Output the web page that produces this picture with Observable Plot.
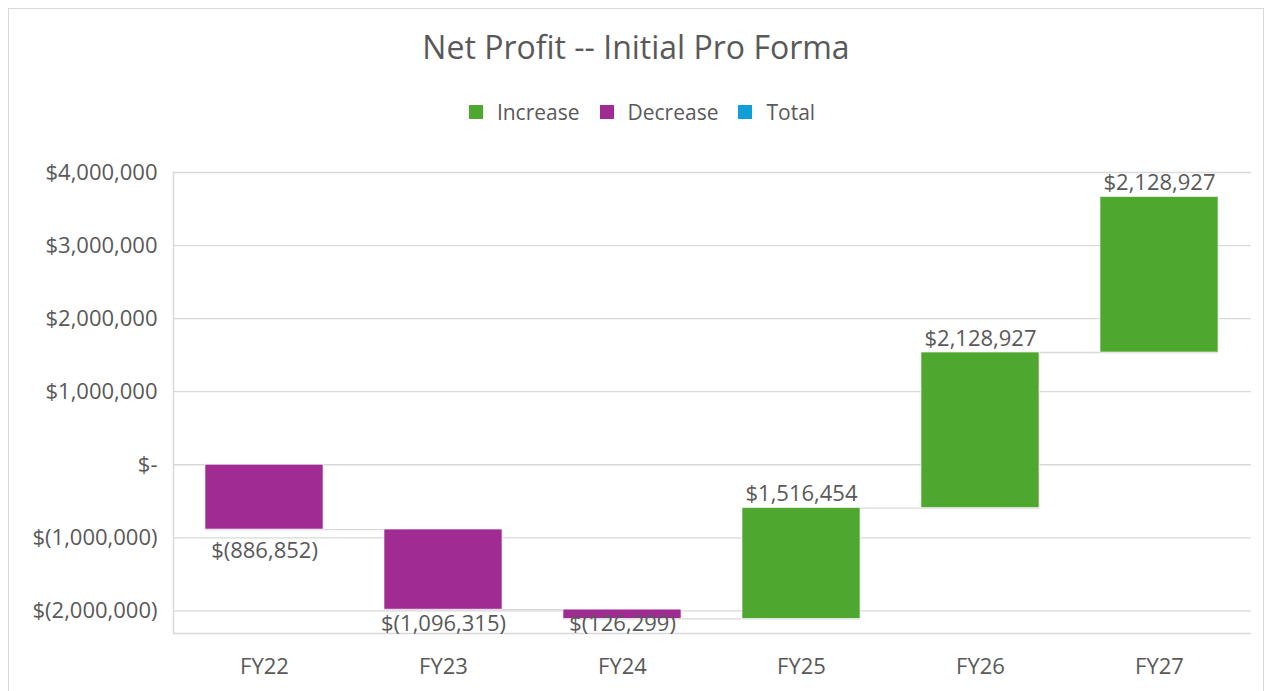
<!DOCTYPE html>
<html>
<head>
<meta charset="utf-8">
<script src="https://cdn.jsdelivr.net/npm/d3@7"></script>
<script src="https://cdn.jsdelivr.net/npm/@observablehq/plot@0.6"></script>
<style>
  html, body { margin: 0; padding: 0; background: #ffffff; }
  body { width: 1268px; height: 691px; position: relative; overflow: hidden; font-family: "Open Sans", "Noto Sans", sans-serif; }
  #frame { position: absolute; left: 8px; top: 8px; width: 1256px; height: 700px; border: 1px solid #d9d9d9; box-sizing: border-box; }
  #title { position: absolute; left: 8px; width: 1256px; top: 27px; text-align: center; font-size: 32px; line-height: 40px; color: #595959; }
  #legend { position: absolute; left: 14px; width: 1256px; top: 99px; display: flex; justify-content: center; align-items: center; font-size: 21px; line-height: 26px; color: #595959; }
  .item { display: flex; align-items: center; margin: 0 10px; }
  .sw { width: 14px; height: 14px; margin-right: 14px; }
  #chart { position: absolute; left: 0; top: 150px; }
</style>
</head>
<body>
<div id="frame"></div>
<div id="title">Net Profit -- Initial Pro Forma</div>
<div id="legend"></div>
<div id="chart"></div>
<script>
// ---- data ----
const categories = ["FY22", "FY23", "FY24", "FY25", "FY26", "FY27"];
const changes = [-886852, -1096315, -126299, 1516454, 2128927, 2128927];
const legendNames = ["Increase", "Decrease", "Total"];
const legendColors = ["#4ea72e", "#a02b93", "#0f9ed5"];
const yTicks = [-2000000, -1000000, 0, 1000000, 2000000, 3000000, 4000000];
const yDomain = [-2310000, 4000000];

// ---- derived rows ----
const fmtNum = d3.format(",");
const acct = v => v === 0 ? "$-" : v < 0 ? "$(" + fmtNum(-v) + ")" : "$" + fmtNum(v);

let run = 0;
const rows = categories.map((c, i) => {
  const start = run;
  run += changes[i];
  return { cat: c, start, end: run, change: changes[i], type: changes[i] >= 0 ? "Increase" : "Decrease" };
});
const connectors = rows.slice(0, -1).map((r, i) => ({ from: r.cat, to: rows[i + 1].cat, value: r.end }));

// ---- layout ----
const W = 1268, H = 541;
const mTop = 22, mBottom = 58, mLeft = 173, mRight = 17;
const pxPerUnit = (H - mTop - mBottom) / (yDomain[1] - yDomain[0]);
const labelPos = r => r.type === "Increase"
  ? r.end + 14 / pxPerUnit
  : Math.max(r.end - 21 / pxPerUnit, yDomain[0] + 10 / pxPerUnit);

// legend
const lg = document.getElementById("legend");
legendNames.forEach((n, i) => {
  const it = document.createElement("div");
  it.className = "item";
  it.innerHTML = `<span class="sw" style="background:${legendColors[i]}"></span><span>${n}</span>`;
  lg.appendChild(it);
});

const chart = Plot.plot({
  width: W,
  height: H,
  marginTop: mTop,
  marginBottom: mBottom,
  marginLeft: mLeft,
  marginRight: mRight,
  style: { fontFamily: "'Open Sans', 'Noto Sans', sans-serif", fontSize: "22px", color: "#595959", background: "transparent" },
  x: { domain: categories, paddingInner: 0.34, paddingOuter: 0.17, tickSize: 0, tickPadding: 25, label: null },
  y: { domain: yDomain, ticks: yTicks, tickSize: 0, tickPadding: 16, tickFormat: acct, label: null },
  color: { domain: legendNames, range: legendColors },
  marks: [
    Plot.ruleY(yTicks, { stroke: "#d9d9d9", strokeWidth: 1.3 }),
    Plot.ruleY([yDomain[0]], { stroke: "#d9d9d9", strokeWidth: 1.5 }),
    Plot.frame({ anchor: "left", stroke: "#d9d9d9", strokeWidth: 1.5 }),
    Plot.ruleY(connectors, { y: "value", x1: "from", x2: "to", stroke: "#d9d9d9", strokeWidth: 1.3 }),
    Plot.barY(rows, { x: "cat", y1: "start", y2: "end", fill: "type", stroke: "#ffffff", strokeWidth: 0.6 }),
    Plot.text(rows, { x: "cat", y: labelPos, text: r => acct(r.change), fill: "#595959", fontSize: 22, lineAnchor: "middle" })
  ]
});
document.getElementById("chart").appendChild(chart);
</script>
</body>
</html>
